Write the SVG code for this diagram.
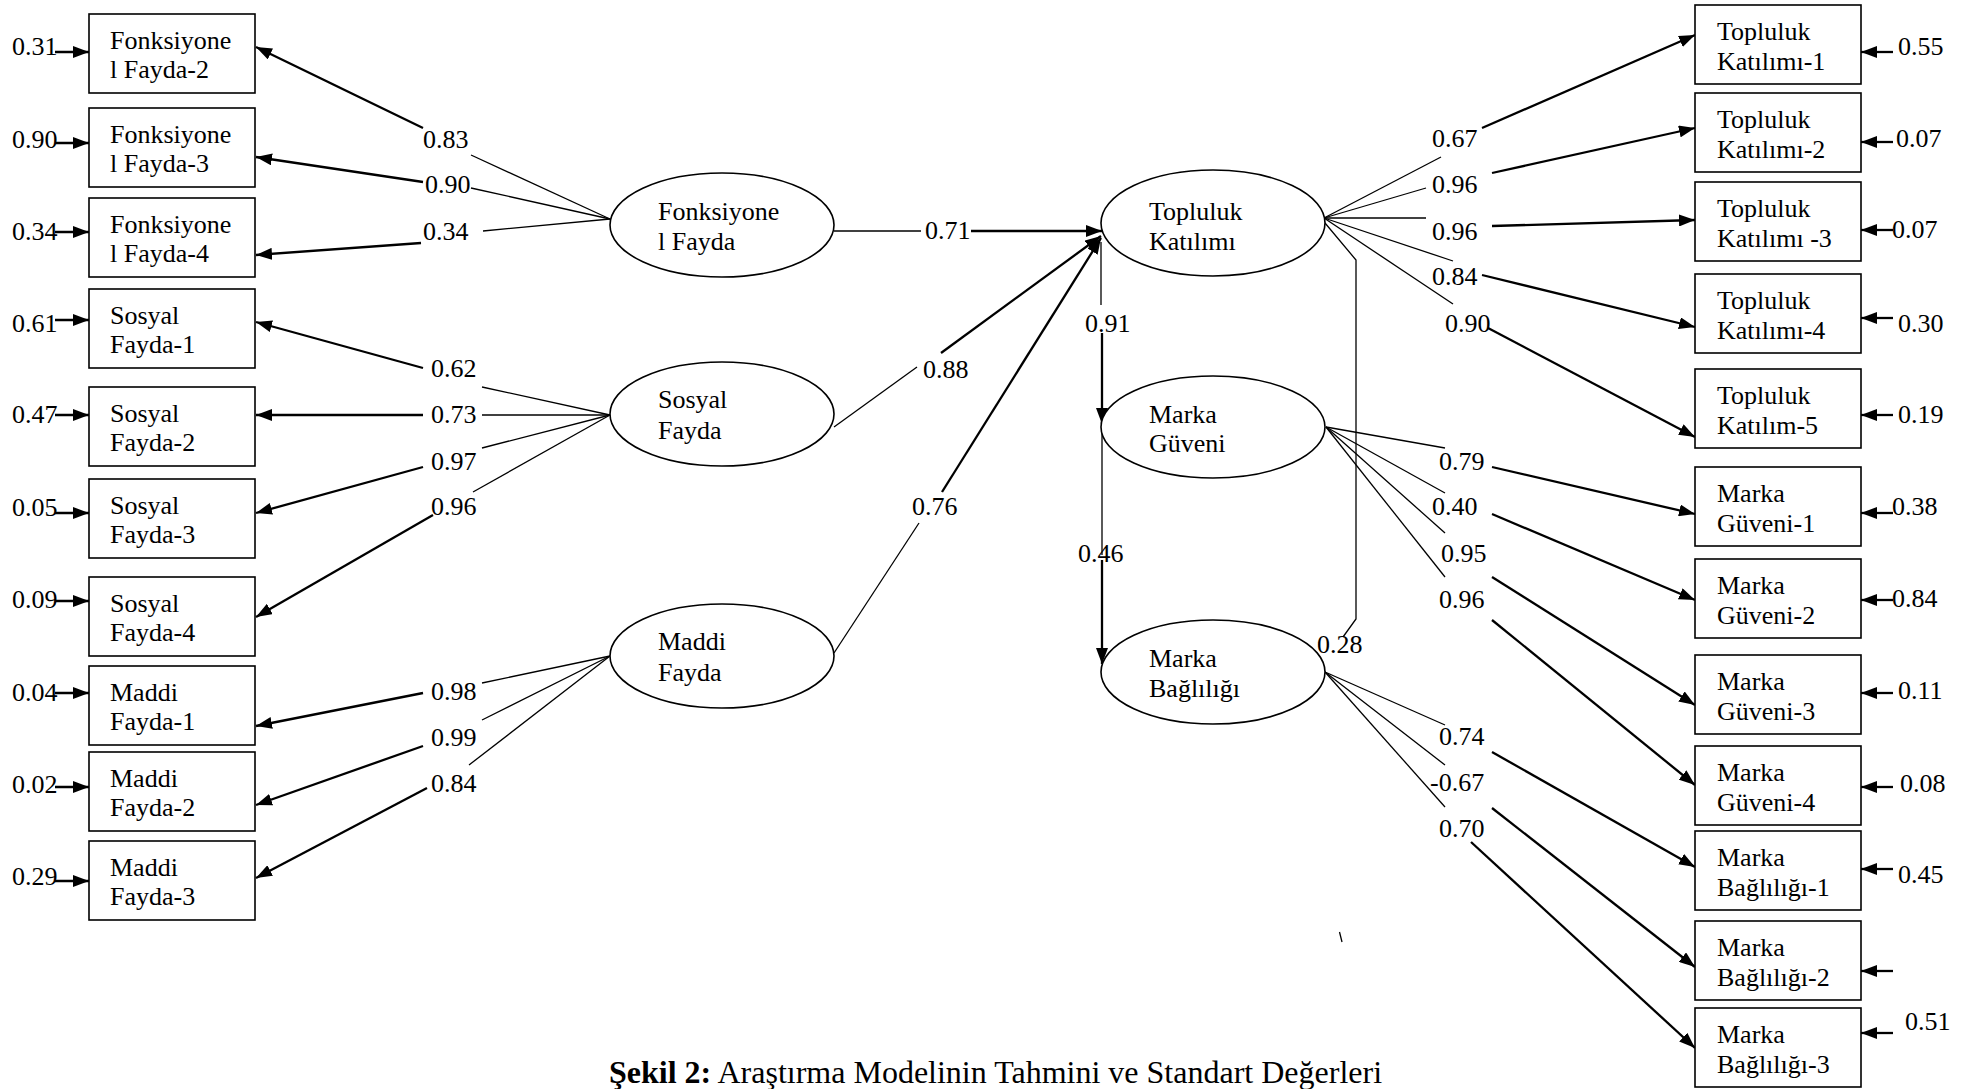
<svg xmlns="http://www.w3.org/2000/svg" width="1970" height="1089" viewBox="0 0 1970 1089">
<style>
text{font-family:"Liberation Serif","Times New Roman",serif;font-size:26px;fill:#000}
.box{fill:#fff;stroke:#000;stroke-width:1.6}
.ell{fill:#fff;stroke:#000;stroke-width:1.6}
.thin{fill:none;stroke:#000;stroke-width:1.3}
.thick{fill:none;stroke:#000;stroke-width:2.3}
.cap{font-size:32px}
</style>
<defs>
<marker id="ah" markerUnits="userSpaceOnUse" markerWidth="16" markerHeight="12" viewBox="0 0 16 12" refX="16" refY="6" orient="auto">
<path d="M0,0 L16,6 L0,12 z" fill="#000"/>
</marker>
</defs>
<rect width="1970" height="1089" fill="#fff"/>

<g id="connectors">
<!-- left residual arrows -->
<g class="thick" marker-end="url(#ah)">
<path d="M55,52 H89"/><path d="M55,143 H89"/><path d="M55,232 H89"/><path d="M55,320 H89"/><path d="M55,415 H89"/>
<path d="M55,513 H89"/><path d="M55,601 H89"/><path d="M55,693 H89"/><path d="M55,787 H89"/><path d="M55,881 H89"/>
</g>
<!-- right residual arrows -->
<g class="thick" marker-end="url(#ah)">
<path d="M1893,52 H1861"/><path d="M1893,142 H1861"/><path d="M1893,230 H1861"/><path d="M1893,318 H1861"/><path d="M1893,415 H1861"/>
<path d="M1893,513 H1861"/><path d="M1893,600 H1861"/><path d="M1893,693 H1861"/><path d="M1893,787 H1861"/><path d="M1893,869 H1861"/>
<path d="M1893,971 H1861"/><path d="M1893,1033 H1861"/>
</g>
<!-- left loadings thin parts -->
<g class="thin">
<path d="M610,219 L471,155"/><path d="M610,219 L471,188"/><path d="M610,219 L483,231"/>
<path d="M610,415 L482,387"/><path d="M610,415 L482,415"/><path d="M610,415 L482,448"/><path d="M610,415 L473,492"/>
<path d="M610,656 L482,683"/><path d="M610,656 L482,720"/><path d="M610,656 L469,765"/>
</g>
<g class="thick" marker-end="url(#ah)">
<path d="M423,128 L256,47"/><path d="M423,182 L256,157"/><path d="M421,243 L256,255"/>
<path d="M423,368 L256,322"/><path d="M423,415 L256,415"/><path d="M423,467 L256,513"/><path d="M433,515 L256,617"/>
<path d="M423,693 L256,726"/><path d="M423,746 L256,805"/><path d="M427,788 L256,878"/>
</g>
<!-- structural paths -->
<g class="thin">
<path d="M834,231 L921,231"/><path d="M834,427 L917,367"/><path d="M834,653 L919,523"/>
<path d="M1101,242 L1101,305"/><path d="M1102,428 L1102,555"/>
<path d="M1325,223 L1356,260 L1356,619 L1343,637"/>
</g>
<g class="thick" marker-end="url(#ah)">
<path d="M971,231 L1102,231"/><path d="M941,353 L1101,236"/><path d="M942,492 L1101,238"/>
<path d="M1102,333 L1102,424"/><path d="M1102,560 L1102,664"/>
</g>
<!-- right loadings thin parts -->
<g class="thin">
<path d="M1324,218 L1441,157"/><path d="M1324,218 L1426,188"/><path d="M1324,218 L1426,218"/><path d="M1324,218 L1453,261"/><path d="M1324,218 L1453,304"/>
<path d="M1326,427 L1445,448"/><path d="M1326,427 L1445,493"/><path d="M1326,427 L1445,533"/><path d="M1326,427 L1445,577"/>
<path d="M1325,672 L1445,725"/><path d="M1325,672 L1445,765"/><path d="M1325,672 L1445,807"/>
</g>
<g class="thick" marker-end="url(#ah)">
<path d="M1482,128 L1695,35"/><path d="M1492,173 L1695,128"/><path d="M1492,226 L1695,220"/><path d="M1482,275 L1695,327"/><path d="M1488,328 L1695,437"/>
<path d="M1492,467 L1695,514"/><path d="M1492,514 L1695,600"/><path d="M1492,577 L1695,705"/><path d="M1492,620 L1695,785"/>
<path d="M1492,752 L1695,867"/><path d="M1492,808 L1695,967"/><path d="M1471,842 L1695,1048"/>
</g>
<!-- connector labels -->
<g id="labels">
<text x="423" y="148">0.83</text><text x="425" y="193">0.90</text><text x="423" y="240">0.34</text>
<text x="431" y="377">0.62</text><text x="431" y="423">0.73</text><text x="431" y="470">0.97</text><text x="431" y="515">0.96</text>
<text x="431" y="700">0.98</text><text x="431" y="746">0.99</text><text x="431" y="792">0.84</text>
<text x="925" y="239">0.71</text><text x="923" y="378">0.88</text><text x="912" y="515">0.76</text>
<text x="1085" y="332">0.91</text><text x="1078" y="562">0.46</text><text x="1317" y="653">0.28</text>
<text x="1432" y="147">0.67</text><text x="1432" y="193">0.96</text><text x="1432" y="240">0.96</text><text x="1432" y="285">0.84</text><text x="1445" y="332">0.90</text>
<text x="1439" y="470">0.79</text><text x="1432" y="515">0.40</text><text x="1441" y="562">0.95</text><text x="1439" y="608">0.96</text>
<text x="1439" y="745">0.74</text><text x="1430" y="791">-0.67</text><text x="1439" y="837">0.70</text>
<!-- residual labels -->
<text x="12" y="55">0.31</text><text x="12" y="148">0.90</text><text x="12" y="240">0.34</text><text x="12" y="332">0.61</text><text x="12" y="423">0.47</text>
<text x="12" y="516">0.05</text><text x="12" y="608">0.09</text><text x="12" y="701">0.04</text><text x="12" y="793">0.02</text><text x="12" y="885">0.29</text>
<text x="1898" y="55">0.55</text><text x="1896" y="147">0.07</text><text x="1892" y="238">0.07</text><text x="1898" y="332">0.30</text><text x="1898" y="423">0.19</text>
<text x="1892" y="515">0.38</text><text x="1892" y="607">0.84</text><text x="1898" y="699">0.11</text><text x="1900" y="792">0.08</text><text x="1898" y="883">0.45</text>
<text x="1905" y="1030">0.51</text>
</g>
<path d="M1339.5,932 L1342,942" class="thin"/>
</g>

<!-- left indicator boxes -->
<g id="fonk2"><rect class="box" x="89" y="14" width="166" height="79"/><text x="110" y="49">Fonksiyone</text><text x="110" y="78">l Fayda-2</text></g>
<g id="fonk3"><rect class="box" x="89" y="108" width="166" height="79"/><text x="110" y="143">Fonksiyone</text><text x="110" y="172">l Fayda-3</text></g>
<g id="fonk4"><rect class="box" x="89" y="198" width="166" height="79"/><text x="110" y="233">Fonksiyone</text><text x="110" y="262">l Fayda-4</text></g>
<g id="sos1"><rect class="box" x="89" y="289" width="166" height="79"/><text x="110" y="324">Sosyal</text><text x="110" y="353">Fayda-1</text></g>
<g id="sos2"><rect class="box" x="89" y="387" width="166" height="79"/><text x="110" y="422">Sosyal</text><text x="110" y="451">Fayda-2</text></g>
<g id="sos3"><rect class="box" x="89" y="479" width="166" height="79"/><text x="110" y="514">Sosyal</text><text x="110" y="543">Fayda-3</text></g>
<g id="sos4"><rect class="box" x="89" y="577" width="166" height="79"/><text x="110" y="612">Sosyal</text><text x="110" y="641">Fayda-4</text></g>
<g id="mad1"><rect class="box" x="89" y="666" width="166" height="79"/><text x="110" y="701">Maddi</text><text x="110" y="730">Fayda-1</text></g>
<g id="mad2"><rect class="box" x="89" y="752" width="166" height="79"/><text x="110" y="787">Maddi</text><text x="110" y="816">Fayda-2</text></g>
<g id="mad3"><rect class="box" x="89" y="841" width="166" height="79"/><text x="110" y="876">Maddi</text><text x="110" y="905">Fayda-3</text></g>

<!-- latent variables -->
<g id="fonk"><ellipse class="ell" cx="722" cy="225" rx="112" ry="52"/><text x="658" y="220">Fonksiyone</text><text x="658" y="250">l Fayda</text></g>
<g id="sos"><ellipse class="ell" cx="722" cy="414" rx="112" ry="52"/><text x="658" y="408">Sosyal</text><text x="658" y="439">Fayda</text></g>
<g id="mad"><ellipse class="ell" cx="722" cy="656" rx="112" ry="52"/><text x="658" y="650">Maddi</text><text x="658" y="681">Fayda</text></g>
<g id="top"><ellipse class="ell" cx="1213" cy="223" rx="112" ry="53"/><text x="1149" y="220">Topluluk</text><text x="1149" y="250">Katılımı</text></g>
<g id="mg"><ellipse class="ell" cx="1213" cy="427" rx="112" ry="51"/><text x="1149" y="423">Marka</text><text x="1149" y="452">Güveni</text></g>
<g id="mb"><ellipse class="ell" cx="1213" cy="672" rx="112" ry="52"/><text x="1149" y="667">Marka</text><text x="1149" y="697">Bağlılığı</text></g>

<!-- right indicator boxes -->
<g id="tk1"><rect class="box" x="1695" y="5" width="166" height="79"/><text x="1717" y="40">Topluluk</text><text x="1717" y="70">Katılımı-1</text></g>
<g id="tk2"><rect class="box" x="1695" y="93" width="166" height="79"/><text x="1717" y="128">Topluluk</text><text x="1717" y="158">Katılımı-2</text></g>
<g id="tk3"><rect class="box" x="1695" y="182" width="166" height="79"/><text x="1717" y="217">Topluluk</text><text x="1717" y="247">Katılımı -3</text></g>
<g id="tk4"><rect class="box" x="1695" y="274" width="166" height="79"/><text x="1717" y="309">Topluluk</text><text x="1717" y="339">Katılımı-4</text></g>
<g id="tk5"><rect class="box" x="1695" y="369" width="166" height="79"/><text x="1717" y="404">Topluluk</text><text x="1717" y="434">Katılım-5</text></g>
<g id="mg1"><rect class="box" x="1695" y="467" width="166" height="79"/><text x="1717" y="502">Marka</text><text x="1717" y="532">Güveni-1</text></g>
<g id="mg2"><rect class="box" x="1695" y="559" width="166" height="79"/><text x="1717" y="594">Marka</text><text x="1717" y="624">Güveni-2</text></g>
<g id="mg3"><rect class="box" x="1695" y="655" width="166" height="79"/><text x="1717" y="690">Marka</text><text x="1717" y="720">Güveni-3</text></g>
<g id="mg4"><rect class="box" x="1695" y="746" width="166" height="79"/><text x="1717" y="781">Marka</text><text x="1717" y="811">Güveni-4</text></g>
<g id="mb1"><rect class="box" x="1695" y="831" width="166" height="79"/><text x="1717" y="866">Marka</text><text x="1717" y="896">Bağlılığı-1</text></g>
<g id="mb2"><rect class="box" x="1695" y="921" width="166" height="79"/><text x="1717" y="956">Marka</text><text x="1717" y="986">Bağlılığı-2</text></g>
<g id="mb3"><rect class="box" x="1695" y="1008" width="166" height="79"/><text x="1717" y="1043">Marka</text><text x="1717" y="1073">Bağlılığı-3</text></g>

<text class="cap" x="609" y="1083"><tspan font-weight="bold">Şekil 2:</tspan> Araştırma Modelinin Tahmini ve Standart Değerleri</text>
</svg>
